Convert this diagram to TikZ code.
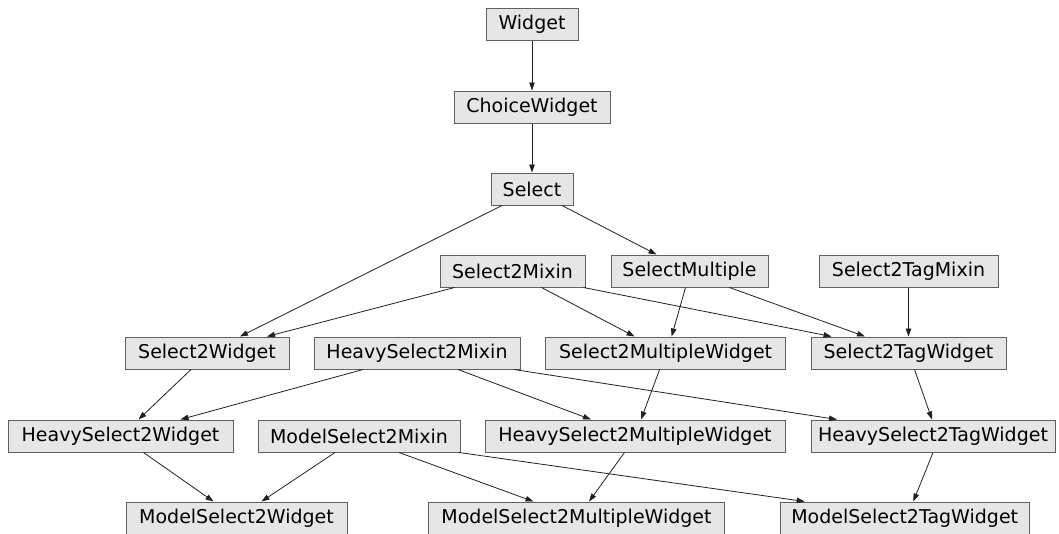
\documentclass[tikz,border=0pt]{standalone}
\usepackage{fontspec}
\setmainfont{DejaVu Sans}
\usetikzlibrary{arrows.meta}
\definecolor{boxfill}{HTML}{E6E6E6}
\definecolor{boxline}{HTML}{606060}
\definecolor{edgecol}{HTML}{202020}
\tikzset{
  cls/.style={draw=boxline, fill=boxfill, line width=1pt, rectangle, inner sep=0pt,
    minimum height=32pt, font=\fontsize{19}{19}\selectfont},
  inh/.style={draw=edgecol, line width=0.8pt, -{Triangle[length=8pt,width=5.5pt]}}
}
\begin{document}
\begin{tikzpicture}[x=1pt,y=-1pt]
\useasboundingbox (0,0) rectangle (1059,533);
% row 1-3
\node[cls, minimum width=92pt]  (w)   at (532,24.5) {Widget};
\node[cls, minimum width=156pt] (cw)  at (532,107)  {ChoiceWidget};
\node[cls, minimum width=82pt]  (sel) at (532,189)  {Select};
% row 4
\node[cls, minimum width=145pt] (s2m)  at (512.5,271) {Select2Mixin};
\node[cls, minimum width=157pt] (sm)   at (689.5,271) {SelectMultiple};
\node[cls, minimum width=179pt] (s2tm) at (908.5,271) {Select2TagMixin};
% row 5
\node[cls, minimum width=164pt] (s2w)  at (207,353)   {Select2Widget};
\node[cls, minimum width=206pt] (hs2m) at (417,353)   {HeavySelect2Mixin};
\node[cls, minimum width=240pt] (s2mw) at (665.6,353) {Select2MultipleWidget};
\node[cls, minimum width=195pt] (s2tw) at (908.5,353) {Select2TagWidget};
% row 6
\node[cls, minimum width=225pt] (hs2w)  at (120.5,436) {HeavySelect2Widget};
\node[cls, minimum width=202pt] (ms2m)  at (359,436)   {ModelSelect2Mixin};
\node[cls, minimum width=300pt] (hs2mw) at (635,436)   {HeavySelect2MultipleWidget};
\node[cls, minimum width=244pt] (hs2tw) at (933,436)   {HeavySelect2TagWidget};
% row 7
\node[cls, minimum width=221pt] (ms2w)  at (236.5,518) {ModelSelect2Widget};
\node[cls, minimum width=296pt] (ms2mw) at (576.5,518) {ModelSelect2MultipleWidget};
\node[cls, minimum width=249pt] (ms2tw) at (904.7,518) {ModelSelect2TagWidget};
% edges
\draw[inh] (w.south) -- (cw.north);
\draw[inh] (cw.south) -- (sel.north);
\draw[inh] ([xshift=-30pt]sel.south) -- ([xshift=33pt]s2w.north);
\draw[inh] ([xshift=30pt]sel.south) -- ([xshift=-33pt]sm.north);
\draw[inh] ([xshift=-58pt]s2m.south) -- ([xshift=60pt]s2w.north);
\draw[inh] ([xshift=29pt]s2m.south) -- ([xshift=-31pt]s2mw.north);
\draw[inh] ([xshift=71pt]s2m.south) -- ([xshift=-77pt]s2tw.north);
\draw[inh] ([xshift=-4pt]sm.south) -- ([xshift=6pt]s2mw.north);
\draw[inh] ([xshift=40pt]sm.south) -- ([xshift=-43.5pt]s2tw.north);
\draw[inh] (s2tm.south) -- (s2tw.north);
\draw[inh] ([xshift=-16pt]s2w.south) -- ([xshift=18pt]hs2w.north);
\draw[inh] ([xshift=-54pt]hs2m.south) -- ([xshift=60pt]hs2w.north);
\draw[inh] ([xshift=41pt]hs2m.south) -- ([xshift=-44pt]hs2mw.north);
\draw[inh] ([xshift=97pt]hs2m.south) -- ([xshift=-96pt]hs2tw.north);
\draw[inh] ([xshift=-6pt]s2mw.south) -- ([xshift=6pt]hs2mw.north);
\draw[inh] ([xshift=6pt]s2tw.south) -- ([xshift=-1pt]hs2tw.north);
\draw[inh] ([xshift=23pt]hs2w.south) -- ([xshift=-23pt]ms2w.north);
\draw[inh] ([xshift=-24pt]ms2m.south) -- ([xshift=25pt]ms2w.north);
\draw[inh] ([xshift=40pt]ms2m.south) -- ([xshift=-43pt]ms2mw.north);
\draw[inh] ([xshift=100pt]ms2m.south) -- ([xshift=-100pt]ms2tw.north);
\draw[inh] ([xshift=-10.5pt]hs2mw.south) -- ([xshift=12.5pt]ms2mw.north);
\draw[inh] (hs2tw.south) -- ([xshift=8.6pt]ms2tw.north);
\end{tikzpicture}
\end{document}
